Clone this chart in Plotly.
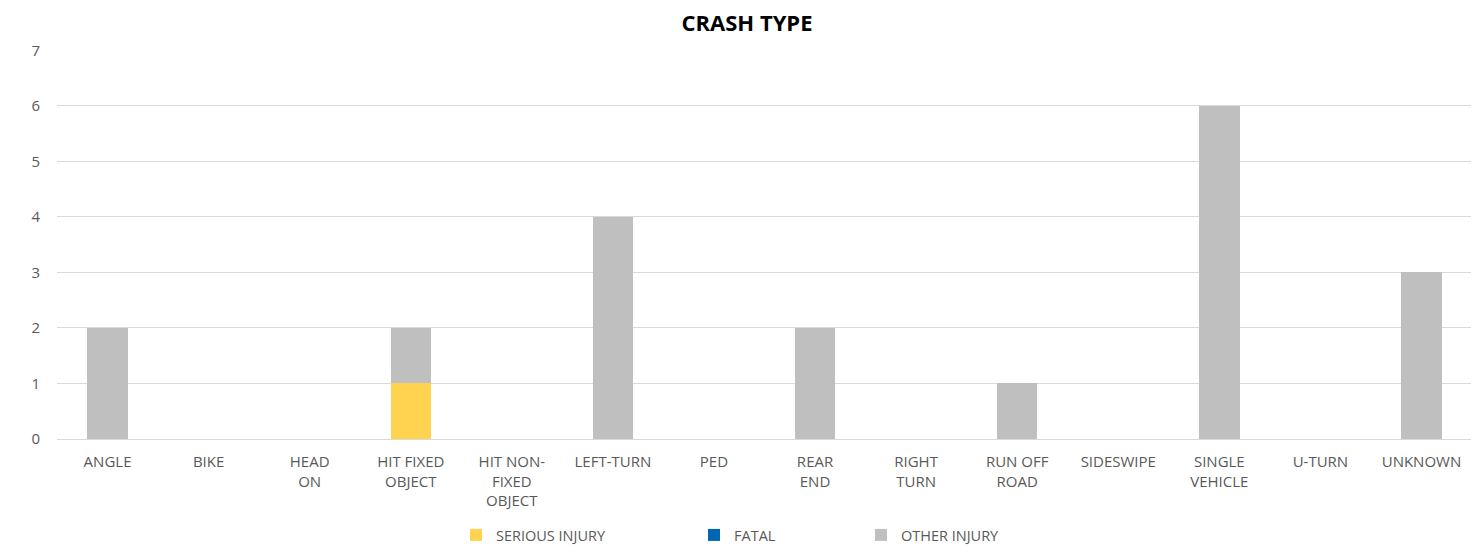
import plotly.graph_objects as go

categories = ["ANGLE", "BIKE", "HEAD<br>ON", "HIT FIXED<br>OBJECT", "HIT NON-<br>FIXED<br>OBJECT",
              "LEFT-TURN", "PED", "REAR<br>END", "RIGHT<br>TURN", "RUN OFF<br>ROAD",
              "SIDESWIPE", "SINGLE<br>VEHICLE", "U-TURN", "UNKNOWN"]
serious_injury = [0, 0, 0, 1, 0, 0, 0, 0, 0, 0, 0, 0, 0, 0]
fatal = [0, 0, 0, 0, 0, 0, 0, 0, 0, 0, 0, 0, 0, 0]
other_injury = [2, 0, 0, 1, 0, 4, 0, 2, 0, 1, 0, 6, 0, 3]
y_ticks = [0, 1, 2, 3, 4, 5, 6, 7]

FONT = "Open Sans"
OFF = 8  # page body margin
W, H = 1479 - OFF, 546 - OFF
fig = go.Figure()
fig.add_trace(go.Bar(x=categories, y=serious_injury, name="SERIOUS INJURY",
                     marker=dict(color="#FFD34F", line=dict(width=0)), legend="legend2"))
fig.add_trace(go.Bar(x=categories, y=fatal, name="FATAL",
                     marker=dict(color="#0066B3", line=dict(width=0)), legend="legend3"))
fig.add_trace(go.Bar(x=categories, y=other_injury, name="OTHER INJURY",
                     marker=dict(color="#BFBFBF", line=dict(width=0)), legend="legend4"))

leg_common = dict(orientation="h", yanchor="middle", y=1 - (535 - OFF) / H,
                  xref="container", yref="container",
                  xanchor="left", font=dict(family=FONT, size=14.5, color="#595959"),
                  bgcolor="rgba(0,0,0,0)", itemwidth=30)

fig.update_layout(
    width=W, height=H,
    barmode="stack", bargap=0.6,
    plot_bgcolor="white", paper_bgcolor="white",
    margin=dict(l=56.5 - OFF, r=6.5, t=50 - OFF, b=107, autoexpand=False),
    title=dict(text="<b>CRASH TYPE</b>", x=(747 - OFF) / W, xanchor="center", xref="container",
               y=1 - (23 - OFF) / H, yanchor="middle", yref="container",
               font=dict(family=FONT, size=22, color="#000000")),
    font=dict(family=FONT, size=15, color="#595959"),
    showlegend=True,
    legend2=dict(**leg_common, x=(470 - OFF - 14) / W),
    legend3=dict(**leg_common, x=(708 - OFF - 14) / W),
    legend4=dict(**leg_common, x=(875 - OFF - 14) / W),
    xaxis=dict(showgrid=False, showline=True, linecolor="#D9D9D9", linewidth=1,
               ticks="", tickfont=dict(family=FONT, size=15, color="#595959"),
               ticklabelstandoff=9, fixedrange=True),
    yaxis=dict(range=[0, 7.005], tickvals=y_ticks, showgrid=True, gridcolor="#D9D9D9", gridwidth=1,
               zeroline=False, showline=False, ticks="",
               tickfont=dict(family=FONT, size=15, color="#595959"),
               ticklabelstandoff=16),
)

fig.write_html("out.html")
